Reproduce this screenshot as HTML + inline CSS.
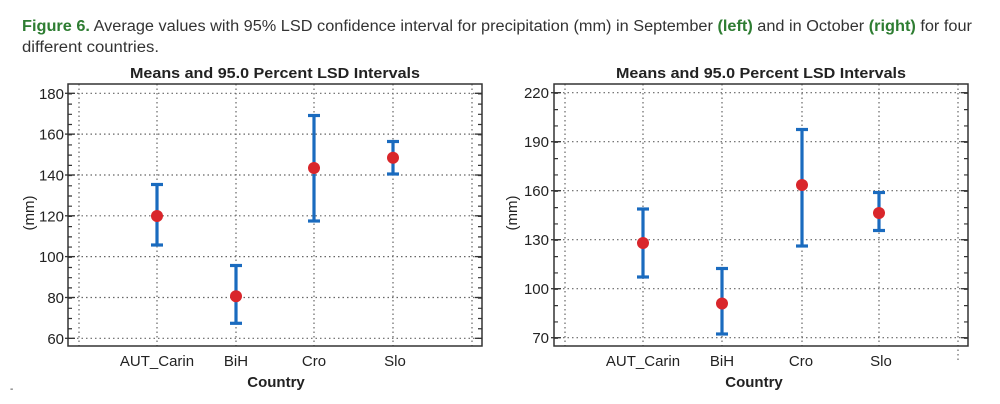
<!DOCTYPE html>
<html><head><meta charset="utf-8"><style>
html,body{margin:0;padding:0;background:#fff;width:1000px;height:404px;overflow:hidden}
svg{display:block}
text{font-family:"Liberation Sans",sans-serif}
</style></head><body>
<svg width="1000" height="404" viewBox="0 0 1000 404">
<text x="22" y="31" font-size="15.5" fill="#333" textLength="950" lengthAdjust="spacingAndGlyphs"><tspan fill="#2e7d32" font-weight="bold">Figure 6.</tspan> Average values with 95% LSD confidence interval for precipitation (mm) in September <tspan fill="#2e7d32" font-weight="bold">(left)</tspan> and in October <tspan fill="#2e7d32" font-weight="bold">(right)</tspan> for four</text>
<text x="22" y="52" font-size="15.5" fill="#333" textLength="137" lengthAdjust="spacingAndGlyphs">different countries.</text>
<text x="10" y="392" font-size="10" fill="#333">-</text>

<!-- LEFT CHART -->
<g>
<text x="275" y="78" font-size="15" font-weight="bold" text-anchor="middle" fill="#222" textLength="290" lengthAdjust="spacingAndGlyphs">Means and 95.0 Percent LSD Intervals</text>
<g stroke="#666" stroke-width="1.2" stroke-dasharray="1.5 3" fill="none">
<line x1="68" y1="93.3" x2="482" y2="93.3"/><line x1="68" y1="134.1" x2="482" y2="134.1"/><line x1="68" y1="175" x2="482" y2="175"/><line x1="68" y1="215.8" x2="482" y2="215.8"/><line x1="68" y1="256.6" x2="482" y2="256.6"/><line x1="68" y1="297.5" x2="482" y2="297.5"/><line x1="68" y1="338.3" x2="482" y2="338.3"/>
<line x1="79" y1="84" x2="79" y2="346"/><line x1="157" y1="84" x2="157" y2="346"/><line x1="236" y1="84" x2="236" y2="346"/><line x1="314" y1="84" x2="314" y2="346"/><line x1="393" y1="84" x2="393" y2="346"/><line x1="472" y1="84" x2="472" y2="346"/>
</g>
<rect x="68" y="84" width="414" height="262" fill="none" stroke="#333" stroke-width="1.5"/>
<line x1="70" y1="93.3" x2="70" y2="339" stroke="#333" stroke-width="4" stroke-dasharray="1.2 9.01"/>
<line x1="480" y1="93.3" x2="480" y2="339" stroke="#333" stroke-width="4" stroke-dasharray="1.2 9.01"/>
<g stroke="#333" stroke-width="1.3">
<line x1="65" y1="93.3" x2="75" y2="93.3"/><line x1="65" y1="134.1" x2="75" y2="134.1"/><line x1="65" y1="175" x2="75" y2="175"/><line x1="65" y1="215.8" x2="75" y2="215.8"/><line x1="65" y1="256.6" x2="75" y2="256.6"/><line x1="65" y1="297.5" x2="75" y2="297.5"/><line x1="65" y1="338.3" x2="75" y2="338.3"/>
<line x1="475" y1="93.3" x2="482" y2="93.3"/><line x1="475" y1="134.1" x2="482" y2="134.1"/><line x1="475" y1="175" x2="482" y2="175"/><line x1="475" y1="215.8" x2="482" y2="215.8"/><line x1="475" y1="256.6" x2="482" y2="256.6"/><line x1="475" y1="297.5" x2="482" y2="297.5"/><line x1="475" y1="338.3" x2="482" y2="338.3"/>
</g>
<g font-size="15" fill="#222" text-anchor="end">
<text x="64" y="98.8">180</text><text x="64" y="139.6">160</text><text x="64" y="180.5">140</text><text x="64" y="221.3">120</text><text x="64" y="262.1">100</text><text x="64" y="303">80</text><text x="64" y="343.8">60</text>
</g>
<text transform="translate(34,213) rotate(-90)" font-size="15" fill="#222" text-anchor="middle">(mm)</text>
<g font-size="15" fill="#222" text-anchor="middle">
<text x="157" y="366">AUT_Carin</text><text x="236" y="366">BiH</text><text x="314" y="366">Cro</text><text x="395" y="366">Slo</text>
</g>
<text x="276" y="387" font-size="15" font-weight="bold" fill="#222" text-anchor="middle">Country</text>
<g stroke="#1a6bbf" stroke-width="3.2">
<line x1="157" y1="184.5" x2="157" y2="245"/><line x1="151" y1="184.5" x2="163" y2="184.5"/><line x1="151" y1="245" x2="163" y2="245"/>
<line x1="236" y1="265.5" x2="236" y2="323.3"/><line x1="230" y1="265.5" x2="242" y2="265.5"/><line x1="230" y1="323.3" x2="242" y2="323.3"/>
<line x1="314" y1="115.5" x2="314" y2="221"/><line x1="308" y1="115.5" x2="320" y2="115.5"/><line x1="308" y1="221" x2="320" y2="221"/>
<line x1="393" y1="141.5" x2="393" y2="174"/><line x1="387" y1="141.5" x2="399" y2="141.5"/><line x1="387" y1="174" x2="399" y2="174"/>
</g>
<g fill="#d9262b">
<circle cx="157" cy="216" r="6"/><circle cx="236" cy="296.3" r="6"/><circle cx="314" cy="168" r="6"/><circle cx="393" cy="157.7" r="6"/>
</g>
</g>

<!-- RIGHT CHART -->
<g>
<text x="761" y="78" font-size="15" font-weight="bold" text-anchor="middle" fill="#222" textLength="290" lengthAdjust="spacingAndGlyphs">Means and 95.0 Percent LSD Intervals</text>
<g stroke="#666" stroke-width="1.2" stroke-dasharray="1.5 3" fill="none">
<line x1="554" y1="92.7" x2="968" y2="92.7"/><line x1="554" y1="141.7" x2="968" y2="141.7"/><line x1="554" y1="190.7" x2="968" y2="190.7"/><line x1="554" y1="239.7" x2="968" y2="239.7"/><line x1="554" y1="288.7" x2="968" y2="288.7"/><line x1="554" y1="337.7" x2="968" y2="337.7"/>
<line x1="565" y1="84" x2="565" y2="346"/><line x1="643" y1="84" x2="643" y2="346"/><line x1="722" y1="84" x2="722" y2="346"/><line x1="802" y1="84" x2="802" y2="346"/><line x1="879" y1="84" x2="879" y2="346"/><line x1="958" y1="84" x2="958" y2="360"/>
</g>
<rect x="554" y="84" width="414" height="262" fill="none" stroke="#333" stroke-width="1.5"/>
<line x1="556" y1="92.7" x2="556" y2="339" stroke="#333" stroke-width="4" stroke-dasharray="1.2 15.13"/>
<line x1="966" y1="92.7" x2="966" y2="339" stroke="#333" stroke-width="4" stroke-dasharray="1.2 15.13"/>
<g stroke="#333" stroke-width="1.3">
<line x1="551" y1="92.7" x2="561" y2="92.7"/><line x1="551" y1="141.7" x2="561" y2="141.7"/><line x1="551" y1="190.7" x2="561" y2="190.7"/><line x1="551" y1="239.7" x2="561" y2="239.7"/><line x1="551" y1="288.7" x2="561" y2="288.7"/><line x1="551" y1="337.7" x2="561" y2="337.7"/>
<line x1="961" y1="92.7" x2="968" y2="92.7"/><line x1="961" y1="141.7" x2="968" y2="141.7"/><line x1="961" y1="190.7" x2="968" y2="190.7"/><line x1="961" y1="239.7" x2="968" y2="239.7"/><line x1="961" y1="288.7" x2="968" y2="288.7"/><line x1="961" y1="337.7" x2="968" y2="337.7"/>
</g>
<g font-size="15" fill="#222" text-anchor="end">
<text x="549" y="98.2">220</text><text x="549" y="147.2">190</text><text x="549" y="196.2">160</text><text x="549" y="245.2">130</text><text x="549" y="294.2">100</text><text x="549" y="343.2">70</text>
</g>
<text transform="translate(517,213) rotate(-90)" font-size="15" fill="#222" text-anchor="middle">(mm)</text>
<g font-size="15" fill="#222" text-anchor="middle">
<text x="643" y="366">AUT_Carin</text><text x="722" y="366">BiH</text><text x="801" y="366">Cro</text><text x="881" y="366">Slo</text>
</g>
<text x="754" y="387" font-size="15" font-weight="bold" fill="#222" text-anchor="middle">Country</text>
<g stroke="#1a6bbf" stroke-width="3.2">
<line x1="643" y1="209" x2="643" y2="277"/><line x1="637" y1="209" x2="649" y2="209"/><line x1="637" y1="277" x2="649" y2="277"/>
<line x1="722" y1="268.5" x2="722" y2="334"/><line x1="716" y1="268.5" x2="728" y2="268.5"/><line x1="716" y1="334" x2="728" y2="334"/>
<line x1="802" y1="129.5" x2="802" y2="246"/><line x1="796" y1="129.5" x2="808" y2="129.5"/><line x1="796" y1="246" x2="808" y2="246"/>
<line x1="879" y1="192.5" x2="879" y2="230.5"/><line x1="873" y1="192.5" x2="885" y2="192.5"/><line x1="873" y1="230.5" x2="885" y2="230.5"/>
</g>
<g fill="#d9262b">
<circle cx="643" cy="243" r="6"/><circle cx="722" cy="303.5" r="6"/><circle cx="802" cy="185" r="6"/><circle cx="879" cy="213" r="6"/>
</g>
</g>
</svg>
</body></html>
